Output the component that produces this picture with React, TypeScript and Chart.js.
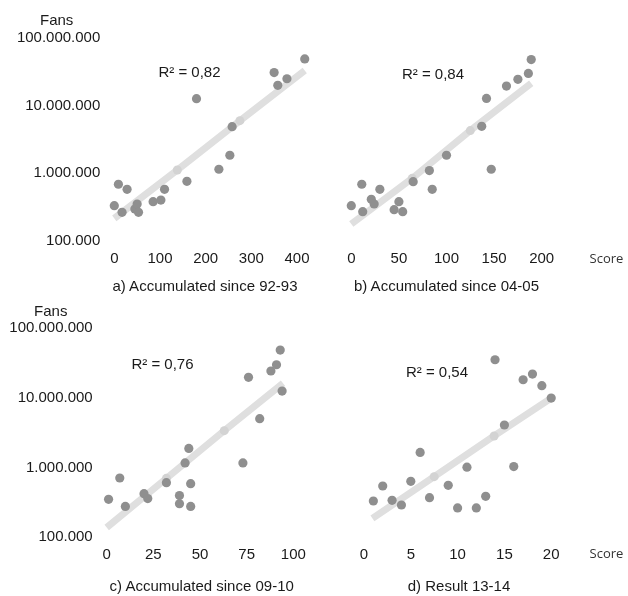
import React, { useEffect, useRef } from 'react';
import { Chart, registerables } from 'chart.js';

Chart.register(...registerables);

// ---- data ----
const fanTicks = [100000, 1000000, 10000000, 100000000];

const aScore = [0, 9, 28, 17, 45, 50, 53, 85, 102, 110, 159, 180, 229, 253, 258, 350, 358, 378, 417];
const aFans = [333000, 690000, 580000, 265000, 297000, 352000, 265000, 381000, 403000, 580000, 762000, 12700000, 1150000, 1850000, 4900000, 30800000, 20000000, 25000000, 49000000];
const aTrendScore = [0, 138, 275, 417];
const aTrendFans = [216000, 1120000, 6000000, 33000000];
const aTicks = [0, 100, 200, 300, 400];

const bScore = [0, 11, 12, 21, 24, 30, 45, 50, 54, 65, 82, 85, 100, 137, 142, 147, 163, 175, 186, 189];
const bFans = [333000, 690000, 271000, 413000, 352000, 580000, 290000, 381000, 271000, 753000, 1100000, 580000, 1850000, 4950000, 12800000, 1150000, 19500000, 24500000, 30000000, 48000000];
const bTrendScore = [0, 64, 125, 189];
const bTrendFans = [178000, 843000, 4280000, 21400000];
const bTicks = [0, 50, 100, 150, 200];

const cScore = [1, 7, 10, 20, 22, 32, 39, 39, 42, 44, 45, 45, 73, 76, 82, 88, 91, 93, 94];
const cFans = [350000, 706000, 277000, 421000, 358000, 605000, 395000, 302000, 1160000, 1870000, 586000, 277000, 1160000, 19500000, 4990000, 24000000, 29500000, 47800000, 12400000];
const cTrendScore = [0, 32, 63, 94.5];
const cTrendFans = [138000, 698000, 3360000, 16000000];
const cTicks = [0, 25, 50, 75, 100];

const dScore = [1, 2, 3, 4, 5, 6, 7, 9, 10, 11, 12, 13, 14, 15, 16, 17, 18, 19, 20];
const dFans = [331000, 542000, 338000, 290000, 632000, 1640000, 369000, 555000, 263000, 1010000, 263000, 386000, 34800000, 4050000, 1030000, 18000000, 21700000, 14800000, 9840000];
const dTrendScore = [0.9, 7.5, 13.9, 20];
const dTrendFans = [187000, 738000, 2820000, 9840000];
const dTicks = [0, 5, 10, 15, 20];

const rSquared = ['R² = 0,82', 'R² = 0,84', 'R² = 0,76', 'R² = 0,54'];
const captions = ['a) Accumulated since 92-93', 'b) Accumulated since 04-05', 'c) Accumulated since 09-10', 'd) Result 13-14'];
const yTitle = 'Fans';
const xTitle = 'Score';

// ---- styling / layout ----
const FONT = "'Liberation Sans', Arial, sans-serif";
const TEXT = '#1a1a1a';
const POINT = '#8f8f8f';
const TREND = '#dfdfdf';
const TREND_DOT = '#d3d3d3';

const fmt = (v: number) => String(Math.round(v)).replace(/\B(?=(\d{3})+(?!\d))/g, '.');

type Panel = {
  left: number; top: number; w: number; h: number;
  score: number[]; fans: number[]; tScore: number[]; tFans: number[]; ticks: number[];
  xMax: number; showY: boolean; plotLeft: number; plotTop: number; plotBottom: number; plotRight: number;
};

const panels: Panel[] = [
  { left: 0, top: 0, w: 314, h: 300, score: aScore, fans: aFans, tScore: aTrendScore, tFans: aTrendFans, ticks: aTicks, xMax: 420, showY: true, plotLeft: 114.3, plotTop: 38, plotBottom: 241, plotRight: 114.3 + 420 * 0.4567 },
  { left: 314, top: 0, w: 314, h: 300, score: bScore, fans: bFans, tScore: bTrendScore, tFans: bTrendFans, ticks: bTicks, xMax: 210, showY: false, plotLeft: 37.3, plotTop: 38, plotBottom: 241, plotRight: 37.3 + 210 * 0.952 },
  { left: 0, top: 300, w: 314, h: 296, score: cScore, fans: cFans, tScore: cTrendScore, tFans: cTrendFans, ticks: cTicks, xMax: 100, showY: true, plotLeft: 106.7, plotTop: 27.7, plotBottom: 237.3, plotRight: 293.3 },
  { left: 314, top: 300, w: 314, h: 296, score: dScore, fans: dFans, tScore: dTrendScore, tFans: dTrendFans, ticks: dTicks, xMax: 21, showY: false, plotLeft: 50, plotTop: 27.7, plotBottom: 237.3, plotRight: 50 + 21 * 9.36 },
];

const XAXIS_H = 40;

const zeroPad = (s: any) => {
  s.paddingLeft = 0;
  s.paddingRight = 0;
  s.paddingTop = 0;
  s.paddingBottom = 0;
};

function PanelChart({ p }: { p: Panel }) {
  const ref = useRef<HTMLCanvasElement>(null);
  useEffect(() => {
    if (!ref.current) return;
    const pts = p.score.map((x, i) => ({ x, y: p.fans[i] }));
    const trend = p.tScore.map((x, i) => ({ x, y: p.tFans[i] }));
    const trendRadius = p.tScore.map((_, i) => (i === 0 || i === p.tScore.length - 1 ? 0 : 4.5));
    const chart = new Chart(ref.current, {
      type: 'scatter',
      data: {
        datasets: [
          {
            data: pts,
            backgroundColor: POINT,
            borderWidth: 0,
            pointRadius: 4.6,
            pointHoverRadius: 4.6,
            order: 0,
            clip: false,
          } as any,
          {
            type: 'line',
            data: trend,
            showLine: true,
            borderColor: TREND,
            borderWidth: 7,
            borderCapStyle: 'butt',
            pointRadius: trendRadius,
            pointBackgroundColor: TREND_DOT,
            pointBorderWidth: 0,
            tension: 0,
            order: 1,
            clip: false,
          } as any,
        ],
      },
      options: {
        animation: false,
        responsive: false,
        maintainAspectRatio: false,
        events: [],
        layout: {
          padding: {
            left: 0,
            right: p.w - p.plotRight,
            top: p.plotTop,
            bottom: p.h - p.plotBottom - XAXIS_H,
          },
        },
        plugins: { legend: { display: false }, tooltip: { enabled: false } },
        scales: {
          x: {
            type: 'linear',
            min: 0,
            max: p.xMax,
            grid: { display: false, drawTicks: false },
            border: { display: false },
            ticks: {
              includeBounds: false,
              autoSkip: false,
              maxRotation: 0,
              padding: 9,
              color: TEXT,
              font: { family: FONT, size: 15 },
            },
            afterBuildTicks: (s: any) => {
              s.ticks = p.ticks.map((v) => ({ value: v }));
            },
            afterFit: (s: any) => {
              s.height = XAXIS_H;
              zeroPad(s);
            },
          },
          y: {
            type: 'logarithmic',
            min: 100000,
            max: 100000000,
            display: true,
            grid: { display: false, drawTicks: false },
            border: { display: false },
            ticks: {
              display: p.showY,
              padding: 14,
              color: TEXT,
              font: { family: FONT, size: 15 },
              autoSkip: false,
              callback: (v: any) => fmt(Number(v)),
            },
            afterBuildTicks: (s: any) => {
              s.ticks = fanTicks.map((v) => ({ value: v }));
            },
            afterFit: (s: any) => {
              s.width = p.plotLeft;
              zeroPad(s);
            },
          },
        },
      } as any,
    });
    return () => chart.destroy();
  }, [p]);
  return (
    <canvas
      ref={ref}
      width={p.w}
      height={p.h}
      style={{ position: 'absolute', left: p.left, top: p.top, width: p.w, height: p.h }}
    />
  );
}

function Label({ x, y, text, size = 15, family = FONT, color = TEXT }: { x: number; y: number; text: string; size?: number; family?: string; color?: string }) {
  return (
    <div
      style={{
        position: 'absolute',
        left: x,
        top: y,
        transform: 'translate(-50%, -50%)',
        whiteSpace: 'nowrap',
        fontFamily: family,
        fontSize: size,
        lineHeight: '1',
        color,
      }}
    >
      {text}
    </div>
  );
}

export default function App() {
  return (
    <div style={{ position: 'absolute', left: 0, top: 0, width: 628, height: 596, background: '#fff', overflow: 'hidden' }}>
      {panels.map((p, i) => (
        <PanelChart key={i} p={p} />
      ))}
      <Label x={56.7} y={19} text={yTitle} />
      <Label x={50.8} y={310} text={yTitle} />
      <Label x={606.5} y={258} text={xTitle} size={13} family="'Open Sans', sans-serif" color="#333" />
      <Label x={606.5} y={553} text={xTitle} size={13} family="'Open Sans', sans-serif" color="#333" />
      <Label x={189.5} y={71} text={rSquared[0]} />
      <Label x={433} y={72.7} text={rSquared[1]} />
      <Label x={162.5} y={363.3} text={rSquared[2]} />
      <Label x={437} y={371} text={rSquared[3]} />
      <Label x={205} y={285} text={captions[0]} />
      <Label x={446.5} y={285} text={captions[1]} />
      <Label x={201.7} y={585} text={captions[2]} />
      <Label x={459} y={585} text={captions[3]} />
    </div>
  );
}
